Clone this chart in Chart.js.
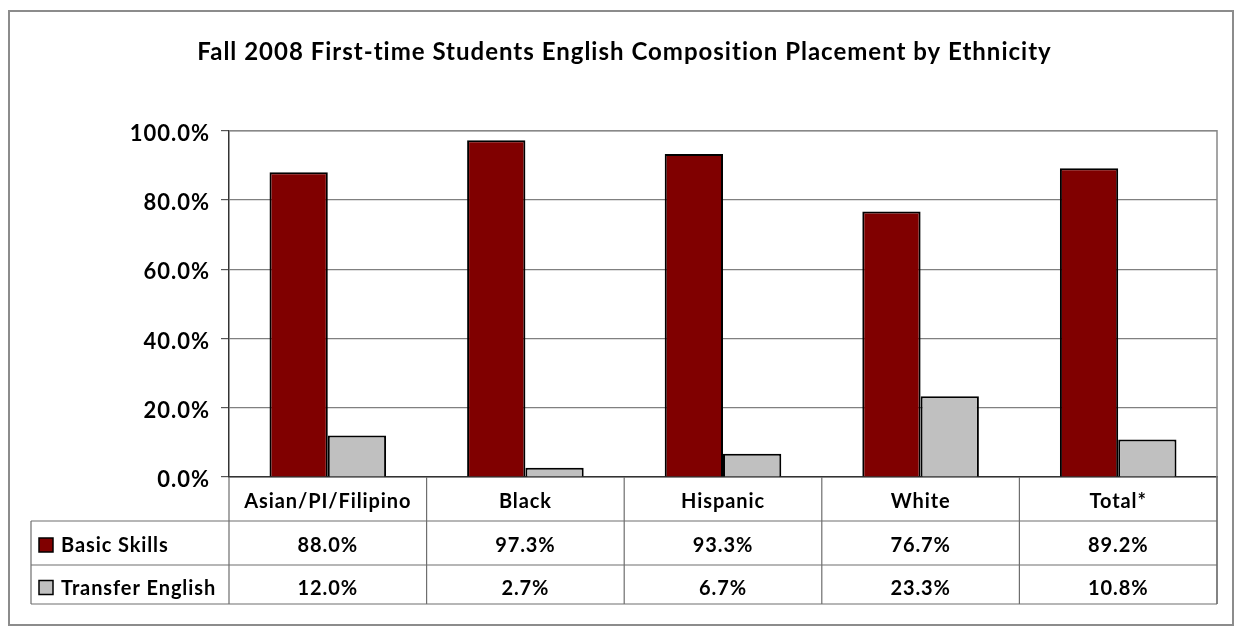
<!DOCTYPE html>
<html>
<head>
<meta charset="utf-8">
<title>English Composition Placement</title>
<script src="https://cdn.jsdelivr.net/npm/chart.js@4/dist/chart.umd.min.js"></script>
<style>
  html, body { margin: 0; padding: 0; background: #fff; }
  #wrap { width: 1236px; height: 627px; }
</style>
</head>
<body>
<div id="wrap"><canvas id="placementChart" width="1236" height="627"></canvas></div>
<script>
const categories = ['Asian/PI/Filipino', 'Black', 'Hispanic', 'White', 'Total*'];
const basicSkills = [88.0, 97.3, 93.3, 76.7, 89.2];
const transferEnglish = [12.0, 2.7, 6.7, 23.3, 10.8];
const seriesNames = ['Basic Skills', 'Transfer English'];
const seriesColors = ['#800000', '#c0c0c0'];

const FONT = 'Lato, "Open Sans", sans-serif';
const pct = v => v.toFixed(1) + '%';

// the old spreadsheet look: slightly spaced-out lettering everywhere
const spacedText = {
    id: 'spacedText',
    beforeDraw(chart) {
        chart.ctx.letterSpacing = '1px';
    }
};

// draws the outer frame, the plot border and the data table under the x axis
const dataTable = {
    id: 'dataTable',
    afterDraw(chart) {
        const ctx = chart.ctx;
        const area = chart.chartArea;
        const x = chart.scales.x;
        const rowTops = [area.bottom, area.bottom + 44, area.bottom + 88, area.bottom + 127];
        const textShift = [3, 3, 4];
        const tableLeft = 31;
        const colW = (area.right - area.left) / categories.length;
        const rowMid = r => (rowTops[r] + rowTops[r + 1]) / 2 + textShift[r];

        ctx.save();
        // outer frame
        ctx.strokeStyle = '#8c8c8c';
        ctx.lineWidth = 2;
        ctx.strokeRect(9, 11, 1224, 614);

        // plot border (top + right)
        ctx.strokeStyle = '#888';
        ctx.lineWidth = 1.5;
        ctx.beginPath();
        ctx.moveTo(area.left, area.top);
        ctx.lineTo(area.right, area.top);
        ctx.lineTo(area.right, rowTops[3]);
        ctx.stroke();

        // table grid
        ctx.strokeStyle = '#6e6e6e';
        ctx.lineWidth = 1.2;
        ctx.beginPath();
        for (let r = 1; r < rowTops.length; r++) {
            ctx.moveTo(tableLeft, rowTops[r]);
            ctx.lineTo(area.right, rowTops[r]);
        }
        ctx.moveTo(tableLeft, rowTops[1]);
        ctx.lineTo(tableLeft, rowTops[3]);
        for (let i = 0; i <= categories.length; i++) {
            const cx = area.left + i * colW;
            ctx.moveTo(cx, area.bottom);
            ctx.lineTo(cx, rowTops[3]);
        }
        ctx.stroke();

        // category header + values
        ctx.letterSpacing = '0.9px';
        ctx.fillStyle = '#000';
        ctx.font = 'bold 20px ' + FONT;
        ctx.textAlign = 'center';
        ctx.textBaseline = 'middle';
        const rows = [basicSkills, transferEnglish];
        categories.forEach((c, i) => {
            const cx = x.getPixelForValue(i);
            ctx.fillText(c, cx, rowMid(0));
            rows.forEach((vals, r) => {
                ctx.fillText(pct(vals[i]), cx, rowMid(r + 1));
            });
        });

        // legend keys in the first column
        ctx.textAlign = 'left';
        seriesNames.forEach((name, r) => {
            const cy = rowMid(r + 1);
            ctx.fillStyle = seriesColors[r];
            ctx.fillRect(39, cy - 8, 14, 14);
            ctx.strokeStyle = '#000';
            ctx.lineWidth = 1.5;
            ctx.strokeRect(39, cy - 8, 14, 14);
            ctx.fillStyle = '#000';
            ctx.fillText(name, 61, cy);
        });
        ctx.restore();
    }
};

new Chart(document.getElementById('placementChart'), {
    type: 'bar',
    data: {
        labels: categories,
        datasets: [
            {
                label: seriesNames[0],
                data: basicSkills,
                backgroundColor: seriesColors[0],
                borderColor: '#000',
                borderWidth: 2
            },
            {
                label: seriesNames[1],
                data: transferEnglish,
                backgroundColor: seriesColors[1],
                borderColor: '#000',
                borderWidth: 2
            }
        ]
    },
    options: {
        responsive: false,
        animation: false,
        layout: { padding: { left: 32, right: 19, top: 0, bottom: 150 } },
        datasets: {
            bar: { categoryPercentage: 0.59, barPercentage: 1.0 }
        },
        scales: {
            x: {
                ticks: { display: false },
                grid: { display: false, drawTicks: false },
                border: { display: true, color: '#333', width: 1.5 }
            },
            y: {
                min: 0,
                max: 100,
                afterFit(scale) { scale.width = 197; },
                ticks: {
                    stepSize: 20,
                    padding: 11,
                    labelOffset: 3,
                    color: '#000',
                    font: { family: FONT, size: 22, weight: 'bold' },
                    callback: v => pct(v)
                },
                grid: { color: '#808080', lineWidth: 1.2, tickLength: 8, tickColor: '#555' },
                border: { display: true, color: '#333', width: 1.5 }
            }
        },
        plugins: {
            legend: { display: false },
            tooltip: { enabled: false },
            title: {
                display: true,
                text: 'Fall 2008 First-time Students English Composition Placement by Ethnicity',
                color: '#000',
                font: { family: FONT, size: 24, weight: 'bold', lineHeight: 1.2 },
                padding: { top: 38, bottom: 64 }
            }
        }
    },
    plugins: [spacedText, dataTable]
});
</script>
</body>
</html>
